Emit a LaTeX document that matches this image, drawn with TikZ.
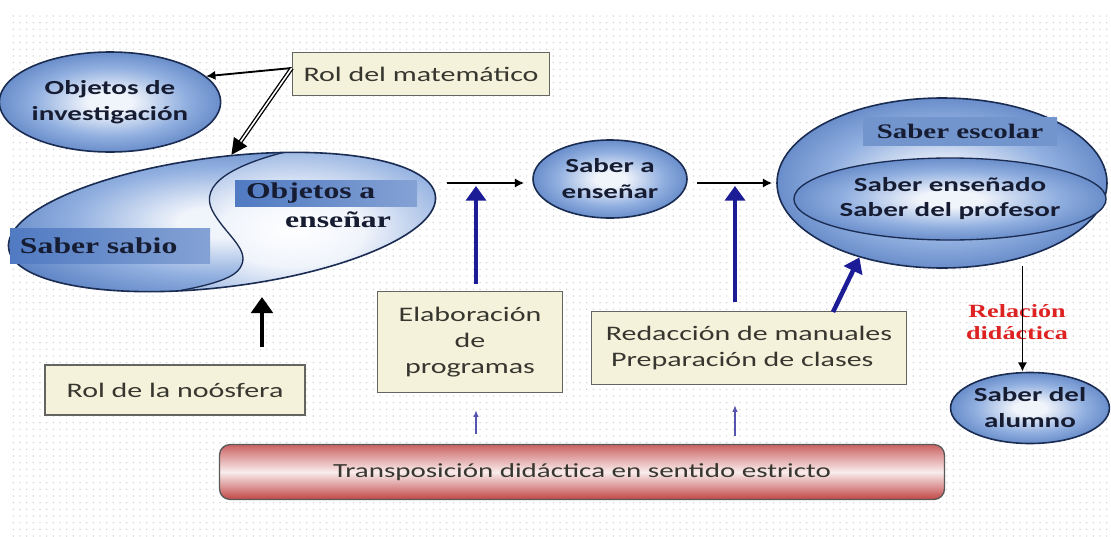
\documentclass[tikz,border=0pt]{standalone}
\usepackage{fontspec}
\setmainfont{Carlito}[FakeStretch=1.45]
\newfontfamily\timesfam{Liberation Serif}[FakeStretch=1.4]
\usetikzlibrary{arrows.meta}
\usetikzlibrary{positioning}
\usetikzlibrary{shapes.geometric}
\usetikzlibrary{patterns.meta}

\newcommand\pxu{0.75pt}

\definecolor{ballin}{RGB}{240,244,251}
\definecolor{ballmid}{RGB}{146,176,224}
\definecolor{ballout}{RGB}{66,108,182}
\definecolor{ballline}{RGB}{26,44,82}
\definecolor{balltext}{RGB}{22,28,50}
\definecolor{boxfill}{RGB}{245,242,220}
\definecolor{boxline}{RGB}{100,100,96}
\definecolor{boxtext}{RGB}{55,55,48}
\definecolor{tagblue}{RGB}{80,122,194}
\definecolor{arrowblue}{RGB}{28,28,150}
\definecolor{redbox}{RGB}{194,70,70}
\definecolor{redtext}{RGB}{222,34,34}

\pgfdeclareradialshading{ballshade}{\pgfpoint{0bp}{0bp}}{color(0bp)=(ballin); color(5bp)=(ballin); color(17bp)=(ballmid); color(33bp)=(ballout); color(50bp)=(ballout)}
\pgfdeclareradialshading{lightshade}{\pgfpoint{0bp}{0bp}}{color(0bp)=(white); color(10bp)=(ballin); color(24bp)=(ballmid); color(36bp)=(ballout); color(50bp)=(ballout)}

\tikzset{
  ball/.style={ellipse, draw=ballline, line width=1.2pt, shade, shading=ballshade,
    text=balltext, font=\fontsize{15}{19.5}\selectfont\bfseries, align=center, inner sep=0pt},
  notebox/.style={rectangle, draw=boxline, line width=1pt, fill=boxfill, text=boxtext,
    font=\fontsize{15.5}{19.5}\selectfont, align=center},
  tag/.style={rectangle, left color=tagblue, right color=tagblue!70!white, text=balltext,
    font=\timesfam\fontsize{17}{18}\selectfont\bfseries, inner sep=0pt},
  serifword/.style={text=balltext, font=\timesfam\fontsize{17}{18}\selectfont\bfseries, inner sep=0pt},
  redlabel/.style={text=redtext, font=\timesfam\fontsize{14}{17}\selectfont\bfseries, align=center},
  redstrip/.style={rectangle, rounded corners=8pt, draw=black!65, line width=1pt,
    top color=redbox!85, bottom color=redbox, middle color=white!90!redbox,
    text=boxtext, font=\fontsize{15}{18}\selectfont},
  blackarrow/.style={-{Latex[length=7pt,width=7pt]}, line width=1.4pt},
  heavyarrow/.style={-{Triangle[length=12pt,width=16pt]}, line width=3pt},
  hollowarrow/.style={double, double distance=1.2pt, line width=1pt, -{Triangle[length=12pt,width=12pt]}},
  bluearrow/.style={draw=arrowblue, -{Triangle[length=11pt,width=15pt]}, line width=3.4pt},
  thinarrow/.style={draw=arrowblue!75, -{Latex[length=5pt,width=4pt]}, line width=0.8pt}
}

\begin{document}
\begin{tikzpicture}[x=0.75pt, y=-0.75pt]
\useasboundingbox (0, 0) rectangle (1111, 536);
\fill[white] (0, 0) rectangle (1111, 536);
\fill[pattern={Dots[distance=5pt, radius=0.5pt]}, pattern color=gray!45] (8, 14) rectangle (1111, 536);

\shade[shading=ballshade, rotate around={7:(222, 222)}] (222, 222) ellipse [x radius=215*\pxu, y radius=65*\pxu];
\begin{scope}
\clip[rotate around={7:(222, 222)}] (222, 222) ellipse [x radius=215*\pxu, y radius=65*\pxu];
\shade[shading=lightshade] (293, 150) .. controls (230, 165) and (200, 185) .. (212, 210)
       .. controls (225, 235) and (252, 250) .. (240, 268)
       .. controls (230, 285) and (170, 293) .. (115, 300)
       -- (115, 320) -- (470, 320) -- (470, 140) -- (293, 140) -- cycle;
\draw[ballline, line width=1pt] (293, 150) .. controls (230, 165) and (200, 185) .. (212, 210)
       .. controls (225, 235) and (252, 250) .. (240, 268)
       .. controls (230, 285) and (170, 293) .. (115, 300);
\end{scope}
\path (222, 222) node[ellipse, rotate=7, draw=ballline, line width=1.2pt, minimum width=430*\pxu, minimum height=130*\pxu] (sabio) {};
\path (110, 246) node[tag, minimum width=200*\pxu, minimum height=35*\pxu, text width=180*\pxu, align=left] (sabiotag) {Saber sabio};
\path (326, 193) node[tag, minimum width=182*\pxu, minimum height=26*\pxu, text width=160*\pxu, align=left] (objtag) {Objetos a};
\path (338, 220) node[serifword] (objword) {enseñar};

\path (110, 102) node[ball, minimum width=190*\pxu, minimum height=100*\pxu] (invest) {Objetos de\\investigación};
\path (610, 179) node[ball, minimum width=154*\pxu, minimum height=78*\pxu] (aensenar) {Saber a\\enseñar};
\path (942, 183) node[ball, minimum width=330*\pxu, minimum height=170*\pxu] (escolar) {};
\path (960, 131) node[tag, left color=tagblue!80!white, right color=tagblue!80!white, minimum width=194*\pxu, minimum height=28*\pxu, font=\timesfam\fontsize{15.5}{18}\selectfont\bfseries] (escolartag) {Saber escolar};
\path (950, 199) node[ball, line width=1pt, minimum width=270*\pxu, minimum height=82*\pxu, font=\fontsize{15}{18.75}\selectfont\bfseries] (ensenado) {Saber enseñado\\Saber del profesor};
\path (1030, 408) node[ball, minimum width=155*\pxu, minimum height=71*\pxu] (alumno) {Saber del\\alumno};

\path (421, 74) node[notebox, minimum width=257*\pxu, minimum height=43*\pxu] (rol) {Rol del matemático};
\path (175, 390) node[notebox, minimum width=260*\pxu, minimum height=50*\pxu] (noos) {Rol de la noósfera};
\path (470, 342) node[notebox, minimum width=185*\pxu, minimum height=101*\pxu] (elab) {Elaboración\\de\\programas};
\path (749, 348) node[notebox, minimum width=315*\pxu, minimum height=73*\pxu, align=left] (redac) {Redacción de manuales\\\hspace*{4pt}Preparación de clases};
\path (582, 472) node[redstrip, minimum width=725*\pxu, minimum height=55*\pxu] (tds) {Transposición didáctica en sentido estricto};
\path (1017, 322) node[redlabel] (reldid) {Relación\\didáctica};

\coordinate (hstart1) at (447, 183);
\coordinate (hjoin1) at (476, 186);
\coordinate (hstart2) at (697, 183);
\coordinate (hjoin2) at (735, 186);
\coordinate (diagfoot) at (833, 312);
\coordinate (nfoot) at (262, 347);
\coordinate (ntip) at (262, 297);

\draw[blackarrow] ([yshift=4.5pt]rol.west) -- (invest.15);
\draw[hollowarrow] ([yshift=4.5pt]rol.west) -- (sabio.75);
\draw[heavyarrow] (nfoot) -- (ntip);
\draw[blackarrow, shorten >=8*\pxu] (hstart1) -- (hstart1 -| aensenar.west);
\draw[blackarrow, shorten >=4*\pxu] (hstart2) -- (hstart2 -| escolar.west);
\draw[bluearrow, shorten <=7*\pxu] (elab.north -| hjoin1) -- (hjoin1);
\draw[bluearrow, shorten <=9*\pxu] (redac.north -| hjoin2) -- (hjoin2);
\draw[bluearrow] (diagfoot) -- (escolar.222);
\draw[blackarrow, shorten <=8*\pxu] (escolar.317) -- (escolar.317 |- alumno.north);
\draw[thinarrow, shorten <=10*\pxu, shorten >=17*\pxu] (tds.north -| hjoin1) -- (elab.south -| hjoin1);
\draw[thinarrow, shorten <=8*\pxu, shorten >=20*\pxu] (tds.north -| hjoin2) -- (redac.south -| hjoin2);
\end{tikzpicture}
\end{document}
